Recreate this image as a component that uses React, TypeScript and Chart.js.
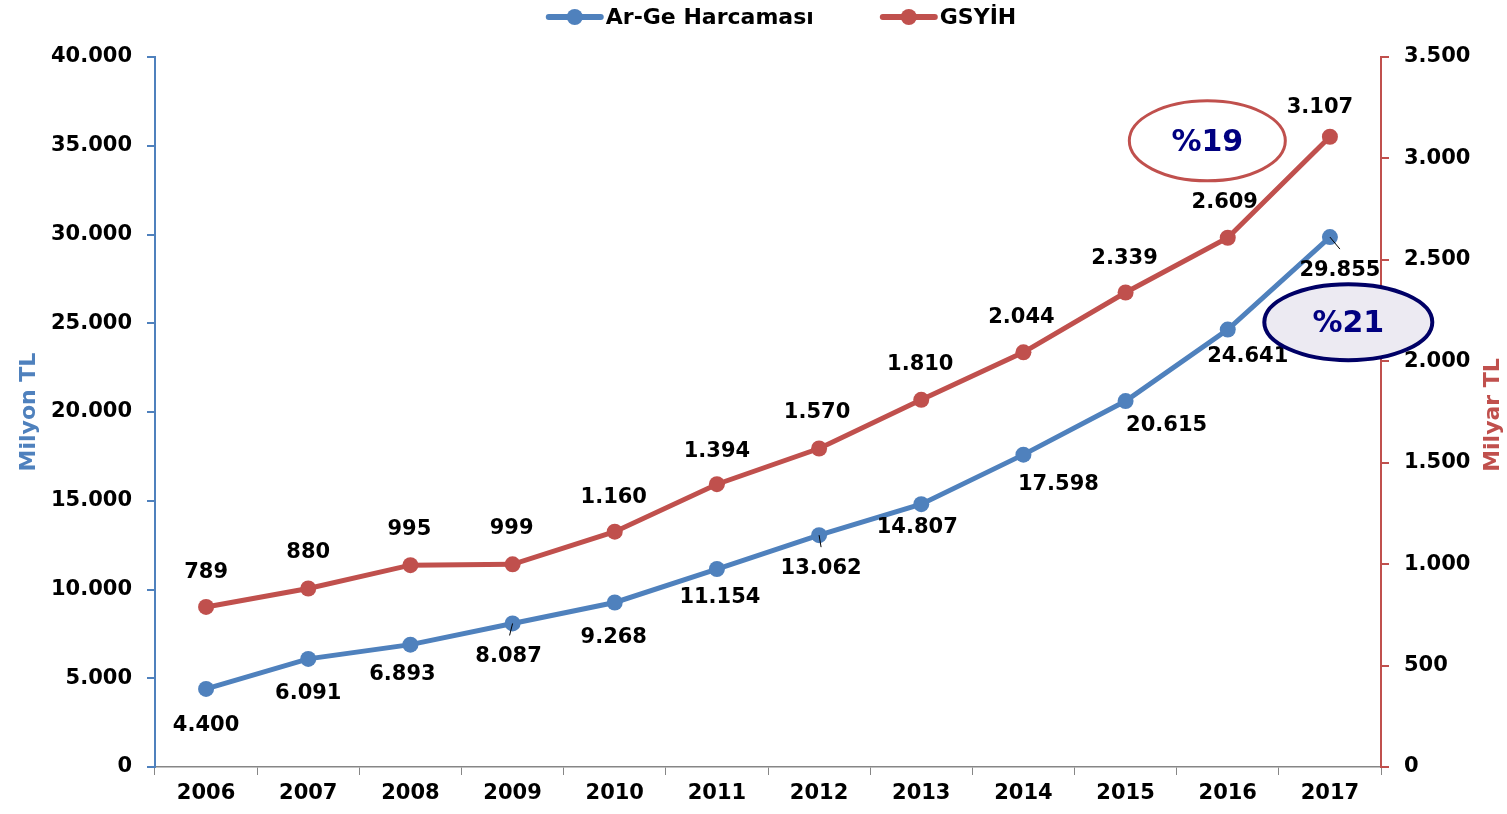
import React, { useEffect, useRef } from "react";
import { Chart, registerables } from "chart.js";

Chart.register(...registerables);

const years = ["2006", "2007", "2008", "2009", "2010", "2011", "2012", "2013", "2014", "2015", "2016", "2017"];
const argeValues = [4400, 6091, 6893, 8087, 9268, 11154, 13062, 14807, 17598, 20615, 24641, 29855];
const gsyihValues = [789, 880, 995, 999, 1160, 1394, 1570, 1810, 2044, 2339, 2609, 3107];
const seriesNames = ["Ar-Ge Harcaması", "GSYİH"];
const axisTitles = ["Milyon TL", "Milyar TL"];
const growthTexts = ["%19", "%21"];

const BLUE = "#4F81BD";
const RED = "#C0504D";
const NAVY = "#000080";
const FONT = "'DejaVu Sans', sans-serif";

const fmt = (v: number) => String(Math.round(v)).replace(/\B(?=(\d{3})+(?!\d))/g, ".");

// label placement offsets (px) relative to each point
const blueOffsets = [[0, 37], [0, 35], [-8, 30], [-4, 33], [-1, 35], [3, 29], [2, 33], [-4, 23], [35, 30], [41, 24], [20, 27], [10, 33]];
const redOffsets = [[0, -34], [0, -36], [-1, -36], [-1, -36], [-1, -34], [0, -33], [-2, -36], [-1, -35], [-2, -35], [-1, -34], [-3, -35], [-10, -29]];
// leader lines: [point index, end dx, end dy]
const blueLeaders = [[3, -3, 12], [6, 2, 12], [11, 10, 12]];

const overlayPlugin = {
  id: "overlay",
  afterDatasetsDraw(chart: any) {
    const ctx = chart.ctx;
    const x = chart.scales.x;
    const yL = chart.scales.y;
    const yR = chart.scales.y1;
    const area = chart.chartArea;
    ctx.save();
    // data labels
    ctx.font = `bold 21px ${FONT}`;
    ctx.fillStyle = "#000";
    ctx.textAlign = "center";
    ctx.textBaseline = "middle";
    const m0 = chart.getDatasetMeta(0).data;
    const m1 = chart.getDatasetMeta(1).data;
    m0.forEach((p: any, i: number) => {
      const [dx, dy] = blueOffsets[i];
      ctx.fillText(fmt(argeValues[i]), p.x + dx, p.y + dy);
    });
    m1.forEach((p: any, i: number) => {
      const [dx, dy] = redOffsets[i];
      ctx.fillText(fmt(gsyihValues[i]), p.x + dx, p.y + dy);
    });
    // leader lines
    ctx.strokeStyle = "#000";
    ctx.lineWidth = 1;
    blueLeaders.forEach(([i, ex, ey]) => {
      const p = m0[i];
      ctx.beginPath();
      ctx.moveTo(p.x, p.y);
      ctx.lineTo(p.x + ex, p.y + ey);
      ctx.stroke();
    });
    // growth ellipses
    const e1x = x.getPixelForValue(9.8);
    const e1y = yR.getPixelForValue(3087);
    ctx.beginPath();
    ctx.ellipse(e1x, e1y, 78, 40, 0, 0, Math.PI * 2);
    ctx.fillStyle = "#FFFFFF";
    ctx.fill();
    ctx.lineWidth = 3;
    ctx.strokeStyle = RED;
    ctx.stroke();
    ctx.fillStyle = NAVY;
    ctx.font = `bold 30px ${FONT}`;
    ctx.fillText(growthTexts[0], e1x, e1y + 2);

    const e2x = x.getPixelForValue(11.18);
    const e2y = yL.getPixelForValue(25063);
    ctx.beginPath();
    ctx.ellipse(e2x, e2y, 84, 38, 0, 0, Math.PI * 2);
    ctx.fillStyle = "#ECEAF2";
    ctx.fill();
    ctx.lineWidth = 4;
    ctx.strokeStyle = "#000066";
    ctx.stroke();
    ctx.fillStyle = NAVY;
    ctx.fillText(growthTexts[1], e2x, e2y + 2);

    // right axis title (reads bottom-to-top)
    ctx.save();
    ctx.translate(1493, (area.top + area.bottom) / 2 + 3);
    ctx.rotate(-Math.PI / 2);
    ctx.font = `bold 22px ${FONT}`;
    ctx.fillStyle = RED;
    ctx.textAlign = "center";
    ctx.textBaseline = "middle";
    ctx.fillText(axisTitles[1], 0, 0);
    ctx.restore();
    ctx.restore();
  },
  afterDraw(chart: any) {
    // legend
    const ctx = chart.ctx;
    ctx.save();
    ctx.font = `bold 22px ${FONT}`;
    ctx.textBaseline = "middle";
    ctx.textAlign = "left";
    const ds = chart.data.datasets;
    const markerW = 58;
    const gap = 2;
    const between = 66;
    const widths = ds.map((d: any) => ctx.measureText(d.label).width);
    const total = widths.reduce((a: number, b: number) => a + b, 0) + ds.length * (markerW + gap) + between * (ds.length - 1);
    let cx = 781 - total / 2;
    const cy = 17;
    ds.forEach((d: any, i: number) => {
      ctx.strokeStyle = d.borderColor;
      ctx.lineWidth = 6;
      ctx.lineCap = "round";
      ctx.beginPath();
      ctx.moveTo(cx + 3, cy);
      ctx.lineTo(cx + markerW - 3, cy);
      ctx.stroke();
      ctx.beginPath();
      ctx.arc(cx + markerW / 2, cy, 8, 0, Math.PI * 2);
      ctx.fillStyle = d.borderColor;
      ctx.fill();
      ctx.fillStyle = "#000";
      ctx.fillText(d.label, cx + markerW + gap, cy + 1);
      cx += markerW + gap + widths[i] + between;
    });
    ctx.restore();
  },
};

export default function App() {
  const ref = useRef<HTMLCanvasElement | null>(null);
  useEffect(() => {
    if (!ref.current) return;
    const tickFont = { family: FONT, size: 21, weight: "bold" as const };
    const chart = new Chart(ref.current, {
      type: "line",
      data: {
        labels: years,
        datasets: [
          {
            label: seriesNames[0],
            data: argeValues,
            borderColor: BLUE,
            backgroundColor: BLUE,
            borderWidth: 5,
            pointRadius: 8,
            pointBorderWidth: 0,
            pointBackgroundColor: BLUE,
            yAxisID: "y",
            tension: 0,
          },
          {
            label: seriesNames[1],
            data: gsyihValues,
            borderColor: RED,
            backgroundColor: RED,
            borderWidth: 5,
            pointRadius: 8,
            pointBorderWidth: 0,
            pointBackgroundColor: RED,
            yAxisID: "y1",
            tension: 0,
          },
        ],
      },
      options: {
        responsive: false,
        animation: false,
        layout: { padding: { top: 57, left: 0, right: 0, bottom: 0 } },
        plugins: { legend: { display: false }, tooltip: { enabled: false } },
        scales: {
          x: {
            offset: true,
            grid: { display: true, drawOnChartArea: false, drawTicks: true, tickLength: 8, color: "#868686", offset: true },
            border: { display: true, color: "#868686", width: 1.5 },
            ticks: { font: tickFont, color: "#000", padding: 6, maxRotation: 0 },
            afterFit: (s: any) => { s.height = 47; },
          },
          y: {
            position: "left",
            min: 0,
            max: 40000,
            ticks: { stepSize: 5000, font: tickFont, color: "#000", padding: 15, callback: (v: any) => fmt(Number(v)) },
            grid: { display: true, drawOnChartArea: false, drawTicks: true, tickLength: 8, color: BLUE, lineWidth: 2 },
            border: { display: true, color: BLUE, width: 2 },
            title: { display: true, text: axisTitles[0], color: BLUE, font: { family: FONT, size: 22, weight: "bold" }, padding: { top: 16, bottom: 0 } },
            afterFit: (s: any) => { s.width = 155; },
          },
          y1: {
            position: "right",
            min: 0,
            max: 3500,
            ticks: { stepSize: 500, font: tickFont, color: "#000", padding: 15, callback: (v: any) => fmt(Number(v)) },
            grid: { display: true, drawOnChartArea: false, drawTicks: true, tickLength: 8, color: RED, lineWidth: 2 },
            border: { display: true, color: RED, width: 2 },
            title: { display: false },
            afterFit: (s: any) => { s.width = 126; },
          },
        },
      },
      plugins: [overlayPlugin],
    });
    return () => chart.destroy();
  }, []);
  return (
    <div style={{ position: "absolute", left: 0, top: 0, width: 1507, height: 814, background: "#fff" }}>
      <canvas ref={ref} width={1507} height={814} style={{ display: "block" }} />
    </div>
  );
}
